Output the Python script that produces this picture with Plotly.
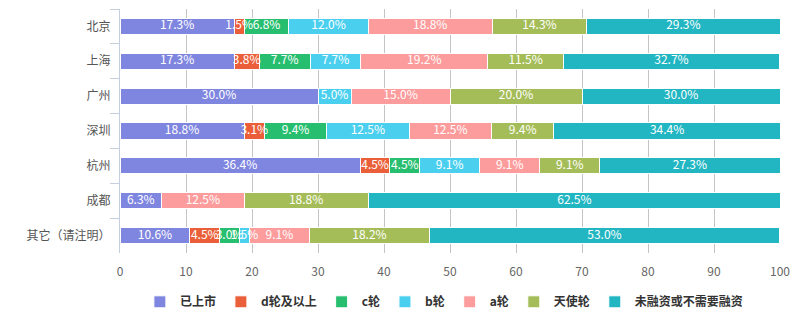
import plotly.graph_objects as go

cities = ["北京", "上海", "广州", "深圳", "杭州", "成都", "其它（请注明）"]
series_names = ["已上市", "d轮及以上", "c轮", "b轮", "a轮", "天使轮", "未融资或不需要融资"]
listed = [17.3, 17.3, 30.0, 18.8, 36.4, 6.3, 10.6]
round_d = [1.5, 3.8, 0, 3.1, 4.5, 0, 4.5]
round_c = [6.8, 7.7, 0, 9.4, 4.5, 0, 3.0]
round_b = [12.0, 7.7, 5.0, 12.5, 9.1, 0, 1.5]
round_a = [18.8, 19.2, 15.0, 12.5, 9.1, 12.5, 9.1]
angel = [14.3, 11.5, 20.0, 9.4, 9.1, 18.8, 18.2]
none_ = [29.3, 32.7, 30.0, 34.4, 27.3, 62.5, 53.0]
colors = ["#7f86df", "#ea5f39", "#27be6f", "#4bcfef", "#fd9c9c", "#a5bd58", "#22b6c3"]
x_ticks = [0, 10, 20, 30, 40, 50, 60, 70, 80, 90, 100]

all_series = [listed, round_d, round_c, round_b, round_a, angel, none_]

font = "Microsoft YaHei, Noto Sans CJK SC, sans-serif"
fig = go.Figure()
for name, vals, col in zip(series_names, all_series, colors):
    xs = [v if v > 0 else None for v in vals]
    fig.add_trace(go.Bar(
        y=cities, x=xs, name=name, orientation="h",
        marker=dict(color=col, line=dict(color="white", width=1)),
        hoverinfo="x+name",
    ))

# labels drawn on top of all bars, at the middle of each segment
lab_x, lab_y, lab_t = [], [], []
for i, city in enumerate(cities):
    cum = 0.0
    for vals in all_series:
        v = vals[i]
        if v > 0:
            lab_x.append(cum + v / 2)
            lab_y.append(city)
            lab_t.append(f"{v:.1f}%")
        cum += v
fig.add_trace(go.Scatter(
    x=lab_x, y=lab_y, text=lab_t, mode="text", showlegend=False,
    textfont=dict(color="white", size=12, family=font), hoverinfo="skip",
    cliponaxis=False,
))

fig.update_layout(
    width=809, height=323,
    barmode="stack", bargap=0.54,
    plot_bgcolor="white", paper_bgcolor="white",
    margin=dict(l=120, r=28, t=9, b=70, autoexpand=False),
    font=dict(family=font, size=12, color="#555"),
    legend=dict(orientation="h", x=0.49, xanchor="center", y=-0.2, yanchor="middle",
                font=dict(size=12, color="#333", family=font, weight="bold"),
                itemwidth=30, traceorder="normal"),
)
fig.update_xaxes(range=[0, 100.15], tickvals=x_ticks, showgrid=True, gridcolor="#c4c4c4",
                 zeroline=False, showline=False, ticks="", ticklabelstandoff=10,
                 tickfont=dict(color="#666", size=12))
fig.update_yaxes(autorange="reversed", showline=True, linecolor="#c3cfdd", ticks="outside",
                 tickson="boundaries", ticklen=9, tickcolor="#c3cfdd",
                 tickfont=dict(color="#555", size=12), showgrid=False, ticklabelstandoff=6)

fig.write_html("out.html")
